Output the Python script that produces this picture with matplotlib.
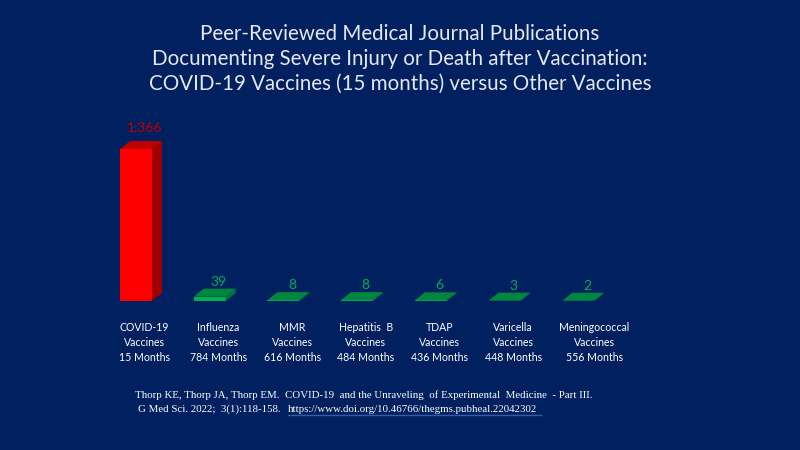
import matplotlib
matplotlib.use("Agg")
import matplotlib.pyplot as plt
from matplotlib.patches import Polygon

# data
vaccines = ["COVID-19", "Influenza", "MMR", "Hepatitis  B", "TDAP", "Varicella", "Meningococcal"]
months = [15, 784, 616, 484, 436, 448, 556]
publications = [1366, 39, 8, 8, 6, 3, 2]
labels = ["1,366", "39", "8", "8", "6", "3", "2"]

BG = "#002060"
plt.rcParams["font.family"] = ["Lato", "DejaVu Sans"]

fig = plt.figure(figsize=(8, 4.5), dpi=100, facecolor=BG)
ax = fig.add_axes([0, 149 / 450, 1, 178 / 450])
ax.set_facecolor(BG)
ax.set_xlim(-141 / 73.7, (800 - 141) / 73.7)
ax.set_ylim(0, 1600)
ax.axis("off")

# 3d-ish box sizes in data units
dx = 10 / 73.7
dy = 8 / 178 * 1600
left_off = 21 / 73.7
right_off = 11 / 73.7

for i, v in enumerate(publications):
    if i == 0:
        front, top, side, tcol, gap = "#FF0000", "#C00000", "#A00000", "#C00000", 10
    else:
        front, top, side, tcol, gap = "#00B050", "#00863E", "#00763A", "#00B050", 5
    l, r = i - left_off, i + right_off
    ax.add_patch(Polygon([(l, 0), (r, 0), (r, v), (l, v)], closed=True, fc=front, ec="none"))
    ax.add_patch(Polygon([(l, v), (r, v), (r + dx, v + dy), (l + dx, v + dy)], closed=True,
                         fc=top, ec="none"))
    ax.add_patch(Polygon([(r, 0), (r + dx, dy), (r + dx, v + dy), (r, v)], closed=True,
                         fc=side, ec="none"))
    ax.annotate(labels[i], (i + 0.05, v + dy), xytext=(0, gap), textcoords="offset points",
                ha="center", va="center", color=tcol, fontsize=10)
    ax.text(i + 0.05 + (0.1 if i == 6 else 0), -190,
            f"{vaccines[i]}\nVaccines\n{months[i]} Months", ha="center",
            va="top", color="white", fontsize=7.6, linespacing=1.42)

fig.text(0.5, 1 - 59 / 450,
         "Peer-Reviewed Medical Journal Publications\n"
         "Documenting Severe Injury or Death after Vaccination:\n"
         "COVID-19 Vaccines (15 months) versus Other Vaccines",
         ha="center", va="center", color="#E6E8F0", fontsize=14.8, linespacing=1.33)

serif = ["Liberation Serif", "DejaVu Serif"]
fig.text(135 / 800, 1 - 395 / 450,
         "Thorp KE, Thorp JA, Thorp EM.  COVID-19  and the Unraveling  of Experimental  Medicine  - Part III.",
         ha="left", va="center", color="white", fontsize=7.8, family=serif)
fig.text(138 / 800, 1 - 409 / 450, "G Med Sci. 2022;  3(1):118-158.",
         ha="left", va="center", color="white", fontsize=7.8, family=serif)
fig.text(288 / 800, 1 - 409 / 450, "https://www.doi.org/10.46766/thegms.pubheal.22042302",
         ha="left", va="center", color="white", fontsize=7.8, family=serif)
fig.add_artist(plt.Line2D([288 / 800, 541 / 800], [1 - 415 / 450] * 2, color="#2E5FA8", lw=1))

fig.savefig("out.png", dpi=100, facecolor=BG)
